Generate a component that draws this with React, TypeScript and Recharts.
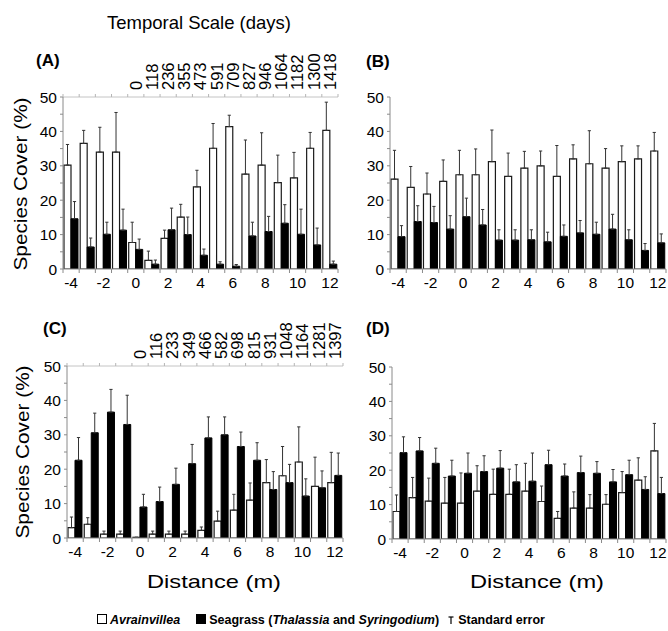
import React from "react";
import { BarChart, Bar, XAxis, YAxis, ErrorBar } from "recharts";

const W = 668;
const H = 631;
const FONT = "'Liberation Sans', Arial, sans-serif";
const AXIS = "#8a8a8a";
const Y_W = 40;
const X_H = 30;
const TOP_H = 60;

const distances = [-4, -3, -2, -1, 0, 1, 2, 3, 4, 5, 6, 7, 8, 9, 10, 11, 12];
const yTicks = [0, 5, 10, 15, 20, 25, 30, 35, 40, 45, 50];
const daysA = ["0", "118", "236", "355", "473", "591", "709", "827", "946", "1064", "1182", "1300", "1418"];
const daysC = ["0", "116", "233", "349", "466", "582", "698", "815", "931", "1048", "1164", "1281", "1397"];

// (A)
const avrA = [30.2, 36.5, 34, 34, 7.7, 2.5, 8.9, 15.1, 23.9, 35.1, 41.4, 27.6, 30.2, 25.1, 26.5, 35.1, 40.3];
const avrSeA = [6.0, 3.8, 7.2, 11.5, 5.9, 2.7, 2.4, 3.7, 4.8, 7.2, 3.3, 9.9, 9.4, 8.0, 7.4, 4.6, 8.2];
const seaA = [14.6, 6.4, 10.1, 11.3, 5.7, 1.4, 11.4, 10.0, 4.0, 1.4, 0.8, 9.6, 10.9, 13.3, 10.1, 7.0, 1.4];
const seaSeA = [5.0, 2.6, 3.5, 6.1, 3.0, 1.2, 6.3, 5.1, 1.8, 0.7, 0.5, 4.0, 4.4, 5.4, 7.3, 4.9, 0.9];

// (B)
const avrB = [26.1, 23.7, 21.8, 25.5, 27.4, 27.4, 31.2, 26.9, 29.3, 30.0, 26.9, 32.0, 30.6, 29.3, 31.2, 32.0, 34.3];
const avrSeB = [8.4, 6.1, 6.1, 6.2, 7.1, 7.5, 9.2, 6.8, 4.9, 4.3, 9.0, 4.1, 9.6, 5.7, 4.6, 3.8, 5.4];
const seaB = [9.4, 13.8, 13.5, 11.6, 15.2, 12.8, 8.4, 8.4, 8.5, 7.9, 9.5, 10.5, 10.1, 11.6, 8.5, 5.4, 7.6];
const seaSeB = [3.2, 4.6, 4.7, 3.9, 5.4, 4.5, 3.0, 3.0, 2.9, 2.8, 3.3, 3.6, 3.5, 4.3, 2.9, 2.0, 2.6];

// (C)
const avrC = [3.0, 4.0, 1.1, 1.1, 0.2, 1.1, 1.1, 1.1, 2.2, 4.9, 8.1, 11.0, 16.1, 18.1, 22.1, 15.0, 16.1];
const avrSeC = [3.1, 1.9, 0.9, 0.9, 0, 0.9, 0.9, 0.9, 1.0, 2.9, 4.6, 5.0, 6.7, 8.5, 10.2, 8.5, 8.8];
const seaC = [22.6, 30.6, 36.6, 33.0, 9.0, 10.6, 15.6, 21.6, 29.1, 30.0, 26.6, 22.6, 14.1, 16.1, 12.2, 14.6, 18.2];
const seaSeC = [6.6, 5.7, 6.6, 8.5, 3.7, 4.2, 4.7, 5.6, 6.1, 5.2, 4.2, 5.1, 5.2, 5.3, 5.0, 4.9, 6.5];

// (D)
const avrD = [8.0, 12.0, 11.0, 10.4, 10.4, 13.9, 13.0, 13.0, 13.9, 10.9, 6.0, 9.0, 9.0, 10.1, 13.5, 17.1, 25.6];
const avrSeD = [4.8, 5.9, 6.7, 7.5, 8.8, 7.4, 7.3, 7.3, 8.1, 4.5, 2.0, 4.7, 3.9, 2.8, 6.1, 6.5, 8.0];
const seaD = [25.1, 25.6, 22.0, 18.3, 19.1, 19.6, 20.6, 16.6, 16.8, 21.6, 18.3, 19.3, 19.1, 16.6, 18.7, 14.4, 13.2];
const seaSeD = [4.6, 3.9, 4.4, 4.6, 5.9, 4.6, 5.1, 5.0, 8.2, 4.2, 3.5, 4.8, 3.4, 3.6, 4.2, 3.7, 4.7];

type Box = { left: number; right: number; top: number; bottom: number };

function buildRows(avr: number[], avrSe: number[], sea: number[], seaSe: number[]) {
  return distances.map((d, i) => ({
    d,
    avr: avr[i],
    avrErr: [0, avrSe[i]],
    sea: sea[i],
    seaErr: [0, seaSe[i]],
  }));
}

function Panel({ box, rows, days }: { box: Box; rows: any[]; days?: string[] }) {
  const band = (box.right - box.left) / distances.length;

  const bottomTick = (p: any) => {
    const { x, y, payload, index } = p;
    const v = payload.value;
    return (
      <g>
        <line x1={x - band / 2} y1={y} x2={x - band / 2} y2={y + 4} stroke={AXIS} />
        {index === distances.length - 1 && (
          <line x1={x + band / 2} y1={y} x2={x + band / 2} y2={y + 4} stroke={AXIS} />
        )}
        {v % 2 === 0 && (
          <text x={x} y={y + 19} textAnchor="middle" fontSize={15.5} fontFamily={FONT} fill="#000">
            {v}
          </text>
        )}
      </g>
    );
  };

  const topTick = (p: any) => {
    const { x, y, payload, index } = p;
    const v = payload.value;
    const lbl = days && v >= 0 ? days[v] : null;
    return (
      <g>
        <line x1={x - band / 2} y1={y} x2={x - band / 2} y2={y - 3} stroke="#b5b5b5" />
        {index === distances.length - 1 && (
          <line x1={x + band / 2} y1={y} x2={x + band / 2} y2={y - 3} stroke="#b5b5b5" />
        )}
        {lbl && (
          <text
            x={x}
            y={y - 7}
            dy="0.36em"
            textAnchor="start"
            transform={`rotate(-90, ${x}, ${y - 7})`}
            fontSize={16.5}
            fontFamily={FONT}
            fill="#000"
          >
            {lbl}
          </text>
        )}
      </g>
    );
  };

  const leftTick = (p: any) => {
    const { x, y, payload } = p;
    if (payload.value % 10 !== 0) return <g />;
    return (
      <text x={x} y={y} dy="0.36em" textAnchor="end" fontSize={15.5} fontFamily={FONT} fill="#000">
        {payload.value}
      </text>
    );
  };

  const topAxisH = days ? TOP_H : 0;

  return (
    <div style={{ position: "absolute", left: 0, top: 0 }}>
      <BarChart
        width={W}
        height={H}
        data={rows}
        margin={{
          left: box.left - Y_W,
          right: W - box.right,
          top: box.top - topAxisH,
          bottom: H - box.bottom - X_H,
        }}
        barCategoryGap={1}
        barGap={0}
      >
        <XAxis
          dataKey="d"
          xAxisId="bottom"
          height={X_H}
          interval={0}
          tickSize={0}
          tickMargin={0}
          tick={bottomTick}
          axisLine={{ stroke: AXIS }}
        />
        {days && (
          <XAxis
            dataKey="d"
            xAxisId="top"
            orientation="top"
            height={TOP_H}
            interval={0}
            tickSize={0}
            tickMargin={0}
            tick={topTick}
            axisLine={{ stroke: "#c4c4c4" }}
          />
        )}
        <YAxis
          width={Y_W}
          domain={[0, 50]}
          ticks={yTicks}
          interval={0}
          allowDataOverflow
          tickSize={3}
          tickMargin={3}
          tick={leftTick}
          tickLine={{ stroke: AXIS }}
          axisLine={{ stroke: AXIS }}
        />
        <Bar dataKey="avr" xAxisId="bottom" fill="#fff" stroke="#1a1a1a" strokeWidth={1.2} isAnimationActive={false}>
          <ErrorBar dataKey="avrErr" width={1.6} stroke="#333" strokeWidth={1} direction="y" isAnimationActive={false} />
        </Bar>
        <Bar dataKey="sea" xAxisId="bottom" fill="#000" stroke="#000" strokeWidth={1} isAnimationActive={false}>
          <ErrorBar dataKey="seaErr" width={1.6} stroke="#333" strokeWidth={1} direction="y" isAnimationActive={false} />
        </Bar>
      </BarChart>
    </div>
  );
}

const boxA: Box = { left: 63, right: 338, top: 97, bottom: 269 };
const boxB: Box = { left: 390, right: 666, top: 97, bottom: 269 };
const boxC: Box = { left: 67, right: 343, top: 366, bottom: 538 };
const boxD: Box = { left: 392, right: 666, top: 367, bottom: 539 };

function Labels() {
  const t = { fontFamily: FONT, fill: "#000" } as const;
  return (
    <svg width={W} height={H} style={{ position: "absolute", left: 0, top: 0 }}>
      <text x={199} y={29} textAnchor="middle" fontSize={18.5} {...t}>
        Temporal Scale (days)
      </text>
      <text x={36} y={66} fontSize={17} fontWeight="bold" {...t}>(A)</text>
      <text x={366} y={67} fontSize={17} fontWeight="bold" {...t}>(B)</text>
      <text x={43} y={334} fontSize={17} fontWeight="bold" {...t}>(C)</text>
      <text x={366} y={334} fontSize={17} fontWeight="bold" {...t}>(D)</text>
      <text
        x={20}
        y={184}
        textAnchor="middle"
        dy="0.36em"
        transform="rotate(-90, 20, 184)"
        fontSize={19}
        textLength={173}
        lengthAdjust="spacingAndGlyphs"
        {...t}
      >
        Species Cover (%)
      </text>
      <text
        x={22}
        y={452}
        textAnchor="middle"
        dy="0.36em"
        transform="rotate(-90, 22, 452)"
        fontSize={19}
        textLength={173}
        lengthAdjust="spacingAndGlyphs"
        {...t}
      >
        Species Cover (%)
      </text>
      <text x={214} y={588} textAnchor="middle" fontSize={19} textLength={134} lengthAdjust="spacingAndGlyphs" {...t}>
        Distance (m)
      </text>
      <text x={537} y={588} textAnchor="middle" fontSize={19} textLength={134} lengthAdjust="spacingAndGlyphs" {...t}>
        Distance (m)
      </text>
    </svg>
  );
}

function Legend() {
  const sq = (fill: string) => (
    <span
      style={{
        display: "inline-block",
        width: 8,
        height: 8,
        background: fill,
        border: "1px solid #000",
        marginRight: 3,
      }}
    />
  );
  return (
    <div
      style={{
        position: "absolute",
        left: -13,
        top: 613,
        width: W,
        textAlign: "center",
        fontFamily: FONT,
        fontWeight: "bold",
        fontSize: 12.5,
        color: "#000",
        whiteSpace: "nowrap",
      }}
    >
      {sq("#fff")}
      <i>Avrainvillea</i>
      <span style={{ display: "inline-block", width: 16 }} />
      {sq("#000")}
      Seagrass (<i>Thalassia</i> and <i>Syringodium</i>)
      <span style={{ display: "inline-block", width: 9 }} />
      <svg width={6} height={8} style={{ marginRight: 4 }}>
        <line x1={3} y1={1} x2={3} y2={8} stroke="#000" strokeWidth={1.2} />
        <line x1={0.5} y1={1} x2={5.5} y2={1} stroke="#000" strokeWidth={1.2} />
      </svg>
      Standard error
    </div>
  );
}

export default function App() {
  return (
    <div style={{ position: "absolute", left: 0, top: 0, width: W, height: H, background: "#fff", overflow: "hidden" }}>
      <Panel box={boxA} rows={buildRows(avrA, avrSeA, seaA, seaSeA)} days={daysA} />
      <Panel box={boxB} rows={buildRows(avrB, avrSeB, seaB, seaSeB)} />
      <Panel box={boxC} rows={buildRows(avrC, avrSeC, seaC, seaSeC)} days={daysC} />
      <Panel box={boxD} rows={buildRows(avrD, avrSeD, seaD, seaSeD)} />
      <Labels />
      <Legend />
    </div>
  );
}
